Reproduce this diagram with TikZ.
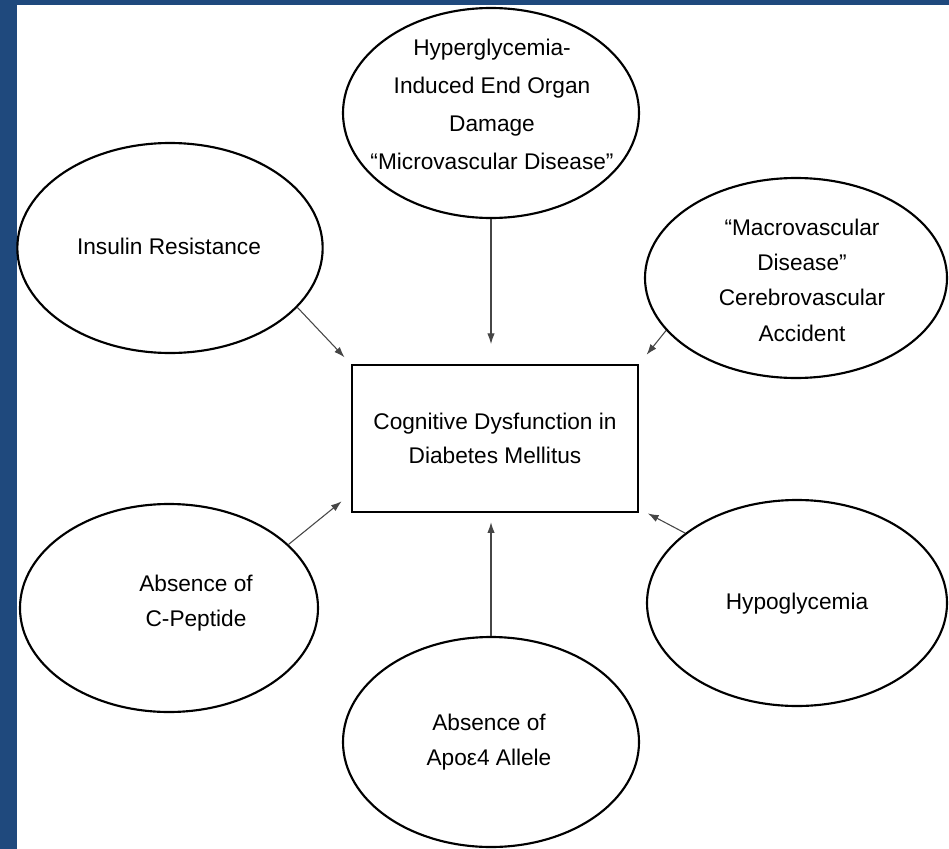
\documentclass[tikz,border=0pt]{standalone}
\usepackage{fontspec}
\setmainfont{Liberation Sans}
\usetikzlibrary{shapes.geometric,arrows.meta}

\definecolor{frameblue}{RGB}{31,73,125}
\definecolor{linkgray}{RGB}{70,70,70}

\tikzset{every picture/.style={line width=0.75pt}}
\tikzset{
  cause/.style={draw, ellipse, line width=1.6pt, inner sep=0pt,
    minimum width=224pt, minimum height=156pt},
  causetext/.style={align=center, inner sep=0.75pt,
    font=\fontsize{17}{26.5}\selectfont},
  focus/.style={draw, rectangle, line width=1.6pt, inner sep=0pt,
    minimum width=214.5pt, minimum height=110pt, align=center,
    font=\fontsize{17}{26}\selectfont},
  link/.style={draw=linkgray, line width=0.8pt, -{Latex[length=8pt,width=5.5pt]}}
}

\begin{document}
\begin{tikzpicture}[x=0.75pt,y=0.75pt,yscale=-1,xscale=1]
\useasboundingbox (0,0) rectangle (949,849);

%Shape: Rectangle (frame)
\fill[frameblue] (0,0) rectangle (949,849);
\fill[white] (17,5) rectangle (949,849);

%Shape: Rectangle
\node[focus] (box) at (495,438.5) {Cognitive Dysfunction in\\Diabetes Mellitus};

%Shape: Ellipse
\node[cause, minimum width=222pt, minimum height=157.5pt] (hyper) at (491,113) {};
%Shape: Ellipse
\node[cause, minimum width=229pt, minimum height=157.5pt] (insulin) at (170,248) {};
%Shape: Ellipse
\node[cause, minimum width=226.5pt, minimum height=150pt] (macro) at (796,278) {};
%Shape: Ellipse
\node[cause, minimum width=223.5pt] (cpep) at (169,608) {};
%Shape: Ellipse
\node[cause, minimum width=225pt, minimum height=154.5pt] (hypo) at (797,603) {};
%Shape: Ellipse
\node[cause, minimum width=222pt, minimum height=157.5pt] (apoe) at (491,742) {};

% Text Node
\node[causetext, font=\fontsize{17}{28.5}\selectfont] (hyper-t) at (492,104) {Hyperglycemia-\\Induced End Organ\\Damage\\“Microvascular Disease”};
% Text Node
\node[causetext] (insulin-t) at (169,246) {Insulin Resistance};
% Text Node
\node[causetext] (macro-t) at (802,280) {“Macrovascular\\Disease”\\Cerebrovascular\\Accident};
% Text Node
\node[causetext] (cpep-t) at (196,603) {Absence of\\C-Peptide};
% Text Node
\node[causetext] (hypo-t) at (797,604) {Hypoglycemia};
% Text Node
\node[causetext] (apoe-t) at (489,742) {Absence of\\Apoε4 Allele};

%Straight Lines
\draw[link, shorten >=15pt] (hyper.south) -- (hyper.south |- box.north);
%Straight Lines
\draw[link, shorten >=7pt] (insulin.-25) -- (box.north west);
%Straight Lines
\draw[link, shorten >=9pt] (macro.202) -- (box.north east);
%Straight Lines
\draw[link, shorten >=9pt] (cpep.28) -- (box.201);
%Straight Lines
\draw[link, shorten >=7.5pt] (hypo.148) -- (box.-26);
%Straight Lines
\draw[link, shorten >=7pt] (apoe.north) -- (apoe.north |- box.south);

\end{tikzpicture}
\end{document}
